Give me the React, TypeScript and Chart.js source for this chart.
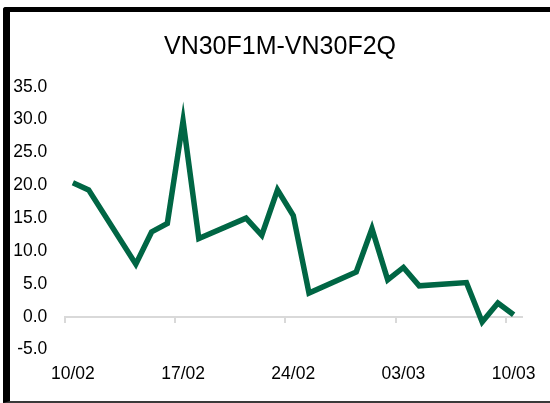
import React, { useEffect, useRef } from 'react';
import { Chart, registerables } from 'chart.js';

Chart.register(...registerables);

// ---- data ----
const YEAR = 2022;
const chartTitle = 'VN30F1M-VN30F2Q';
const dates = [
  '10/02', '11/02', '14/02', '15/02', '16/02', '17/02', '18/02',
  '21/02', '22/02', '23/02', '24/02', '25/02', '28/02', '01/03',
  '02/03', '03/03', '04/03', '07/03', '08/03', '09/03', '10/03',
];
const values = [
  20.4, 19.3, 8.0, 12.9, 14.2, 29.8, 11.9,
  15.0, 12.4, 19.3, 15.4, 3.6, 6.8, 13.4,
  5.6, 7.5, 4.7, 5.2, -0.8, 2.1, 0.3,
];
const xTickLabels = ['10/02', '17/02', '24/02', '03/03', '10/03'];
const yMin = -5;
const yMax = 35;
const yStep = 5;

function toUTC(s: string): number {
  const [d, m] = s.split('/').map(Number);
  return Date.UTC(YEAR, m - 1, d);
}
function dayIndex(s: string): number {
  return Math.round((toUTC(s) - toUTC(dates[0])) / 86400000);
}

const FONT = "'Liberation Sans', Arial, Helvetica, sans-serif";

export default function App() {
  const ref = useRef<HTMLCanvasElement>(null);

  useEffect(() => {
    const points = dates.map((d, i) => ({ x: dayIndex(d), y: values[i] }));
    const xMin = dayIndex(dates[0]) - 0.5;
    const xMax = dayIndex(dates[dates.length - 1]) + 0.5;

    const chart = new Chart(ref.current as HTMLCanvasElement, {
      type: 'line',
      data: {
        datasets: [
          {
            data: points,
            xAxisID: 'x',
            yAxisID: 'y',
            borderColor: '#006644',
            borderWidth: 5.5,
            pointRadius: 0,
            pointHoverRadius: 0,
            tension: 0,
            borderJoinStyle: 'miter',
            borderCapStyle: 'butt',
            fill: false,
          },
        ],
      },
      options: {
        animation: false,
        responsive: false,
        devicePixelRatio: 1,
        events: [],
        layout: { padding: { left: 10, right: 0, top: 0, bottom: 19 } },
        plugins: {
          legend: { display: false },
          tooltip: { enabled: false },
          title: {
            display: true,
            text: chartTitle,
            color: '#000',
            font: { family: FONT, size: 25, weight: 'normal' },
            padding: { top: 32, bottom: 24.7 },
          },
        },
        scales: {
          x: {
            type: 'linear',
            min: xMin,
            max: xMax,
            position: { y: 0 },
            afterBuildTicks: (s: any) => {
              s.ticks = xTickLabels.map((l) => ({ value: dayIndex(l) - 0.5 }));
            },
            ticks: { display: false },
            grid: {
              display: true,
              drawOnChartArea: false,
              drawTicks: true,
              tickLength: 5,
              color: '#d9d9d9',
              lineWidth: 2,
            },
            border: { display: true, color: '#d9d9d9', width: 2 },
          },
          x2: {
            type: 'linear',
            axis: 'x',
            min: xMin,
            max: xMax,
            position: 'bottom',
            afterBuildTicks: (s: any) => {
              s.ticks = xTickLabels.map((l) => ({ value: dayIndex(l) }));
            },
            afterFit: (s: any) => {
              s.height = 34.4;
            },
            ticks: {
              callback: (_v: any, i: number) => xTickLabels[i],
              color: '#000',
              font: { family: FONT, size: 17.5 },
              padding: 14,
              maxRotation: 0,
              autoSkip: false,
            },
            grid: { display: false, drawTicks: false },
            border: { display: false },
          },
          y: {
            type: 'linear',
            min: yMin,
            max: yMax,
            position: 'left',
            afterFit: (s: any) => {
              s.width = 55;
            },
            ticks: {
              stepSize: yStep,
              callback: (v: any) => Number(v).toFixed(1),
              color: '#000',
              font: { family: FONT, size: 17.5 },
              padding: 17.7,
            },
            grid: { display: false, drawTicks: false },
            border: { display: false },
          },
          yRight: {
            type: 'linear',
            axis: 'y',
            min: yMin,
            max: yMax,
            position: 'right',
            afterFit: (s: any) => {
              s.width = 27;
            },
            ticks: { display: false },
            grid: { display: false, drawTicks: false },
            border: { display: false },
          },
        },
      } as any,
    });
    return () => chart.destroy();
  }, []);

  return (
    <div
      style={{
        position: 'fixed',
        left: 0,
        top: 0,
        width: 550,
        height: 403,
        overflow: 'hidden',
        background: '#fff',
      }}
    >
      <div
        style={{
          position: 'absolute',
          left: 3,
          top: 7,
          width: 600,
          height: 396,
          boxSizing: 'border-box',
          borderLeft: '7px solid #000',
          borderTop: '5px solid #000',
          borderBottom: '2px solid #3a3a3a',
          borderTopLeftRadius: 3,
        }}
      />
      <canvas
        ref={ref}
        width={550}
        height={403}
        style={{ position: 'absolute', left: 0, top: 0, width: 550, height: 403 }}
      />
    </div>
  );
}
